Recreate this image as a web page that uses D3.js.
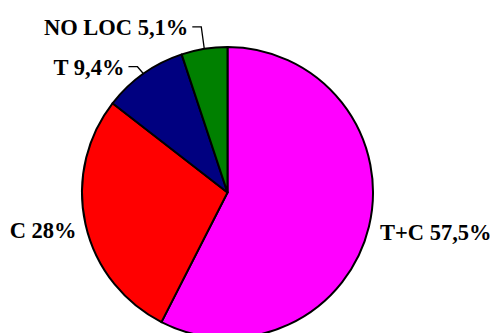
<!DOCTYPE html>
<html lang="es">
<head>
  <meta charset="utf-8">
  <script src="https://d3js.org/d3.v7.min.js"></script>
  <title>Pie</title>
  <style>
    body { margin: 0; background: #fff; }
  </style>
</head>
<body>
  <div id="chart"></div>
  <script>
    // data
    const labels = ["T+C", "C", "T", "NO LOC"];
    const values = [57.5, 28, 9.4, 5.1];
    const valueText = ["57,5%", "28%", "9,4%", "5,1%"];
    const colors = ["#ff00ff", "#ff0000", "#000080", "#008000"];

    const width = 492, height = 333;
    const cx = 227.5, cy = 192.5, radius = 145.5;

    const svg = d3.select("#chart")
      .append("svg")
      .attr("width", width)
      .attr("height", height);

    const g = svg.append("g")
      .attr("transform", `translate(${cx},${cy})`);

    const pie = d3.pie().sort(null).value(d => d.v);
    const arcs = pie(labels.map((l, i) => ({ l: l, v: values[i], t: valueText[i], c: colors[i] })));

    const arc = d3.arc().innerRadius(0).outerRadius(radius);

    g.selectAll("path")
      .data(arcs)
      .join("path")
      .attr("d", arc)
      .attr("fill", d => d.data.c)
      .attr("stroke", "#000")
      .attr("stroke-width", 2)
      .attr("stroke-linejoin", "round");

    // point on the rim at the middle of a slice
    function rim(d, r) {
      const a = (d.startAngle + d.endAngle) / 2;
      return [Math.sin(a) * r, -Math.cos(a) * r];
    }

    const font = "'Liberation Serif', 'Times New Roman', serif";

    arcs.forEach(d => {
      const p = rim(d, radius);
      const txt = d.data.l + " " + d.data.t;
      const small = d.value < 10;
      if (small) {
        // elbow leader line up and to the left
        const elbowY = p[1] - (d.value < 6 ? 22 : 7);
        const elbowX = p[0] - (d.value < 6 ? 3 : 6);
        const endX = elbowX - 9;
        g.append("polyline")
          .attr("points", [p, [elbowX, elbowY], [endX, elbowY]].map(q => q.join(",")).join(" "))
          .attr("fill", "none")
          .attr("stroke", "#000")
          .attr("stroke-width", 1.3);
        g.append("text")
          .attr("x", endX - 4)
          .attr("y", elbowY + 8)
          .attr("text-anchor", "end")
          .style("font-family", font)
          .style("font-weight", "bold")
          .style("font-size", "22.5px")
          .text(txt);
      } else {
        const left = p[0] < 0;
        g.append("text")
          .attr("x", p[0] + (left ? -9 : 11))
          .attr("y", p[1] + 14)
          .attr("text-anchor", left ? "end" : "start")
          .style("font-family", font)
          .style("font-weight", "bold")
          .style("font-size", "22.5px")
          .text(txt);
      }
    });
  </script>
</body>
</html>
